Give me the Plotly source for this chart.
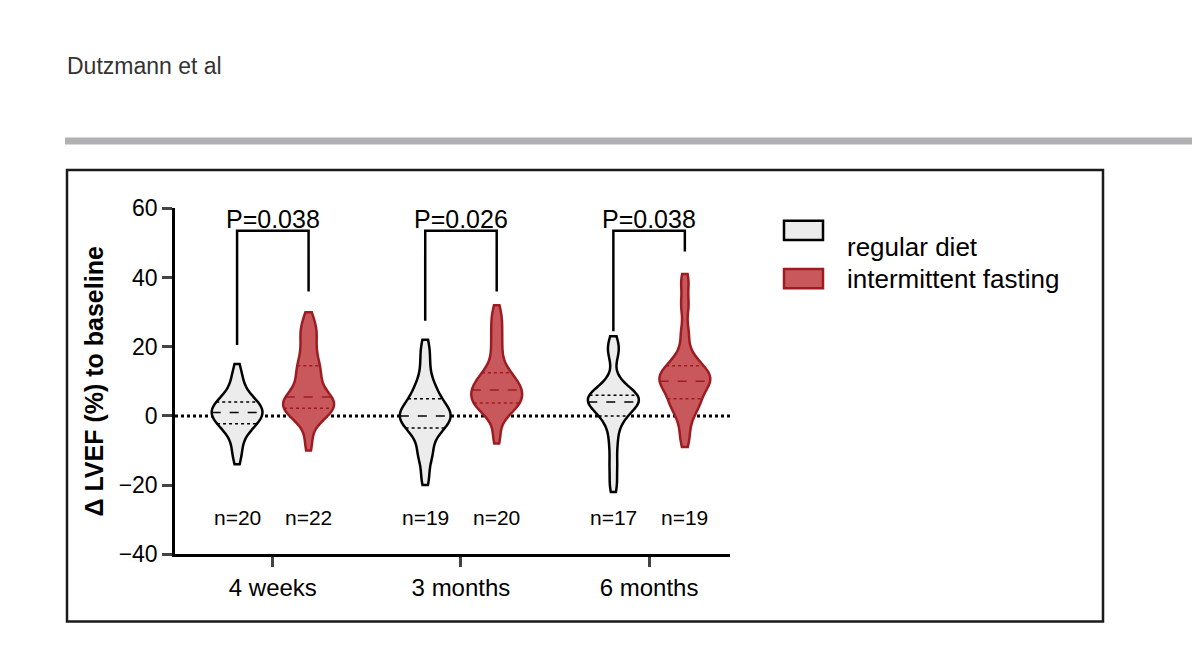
import numpy as np
import plotly.graph_objects as go

W, H = 1200, 665
DX, DY = 8, 8  # compensate page offset

groups = ["4 weeks", "3 months", "6 months"]
p_values = ["P=0.038", "P=0.026", "P=0.038"]
n_regular = ["n=20", "n=19", "n=17"]
n_fasting = ["n=22", "n=20", "n=19"]

# estimated Δ LVEF values (%) per patient
regular = [
    [-12, -9, -5, -3, -3, -2, -1, 0, 0, 1, 1, 2, 2, 3, 4, 4, 5, 7, 10, 13],
    [-18, -12, -10, -6, -4, -3, -2, -1, 0, 0, 1, 2, 3, 4, 6, 8, 10, 15, 20],
    [-20, -14, -8, -3, 0, 1, 3, 4, 4, 5, 5, 6, 6, 7, 10, 18, 21],
]
fasting = [
    [-8, -2, 0, 1, 1, 2, 3, 4, 4, 5, 5, 6, 8, 10, 12, 13, 15, 17, 20, 23, 25, 28],
    [-6, 0, 2, 3, 3, 4, 5, 6, 7, 7, 8, 9, 10, 11, 12, 14, 18, 22, 26, 30],
    [-7, -2, 2, 3, 4, 6, 8, 9, 10, 10, 11, 12, 13, 14, 15, 18, 24, 32, 39],
]
# bracket: (left leg bottom, right leg bottom, top)
brackets = [(20.5, 36, 53.5), (27.5, 36, 53.5), (24.5, 47.5, 53.5)]

off = 0.19
vw = 0.27
BW = 3.0
reg_line, reg_fill = "black", "#ececec"
fas_line, fas_fill = "#9c1c22", "#c9585d"


def px(x):
    return (x - DX) / W


def py(y):
    return 1 - (y - DY) / H


def kde_halfwidth(vals, y):
    v = np.asarray(vals, float)
    grid = np.linspace(v.min() - 2, v.max() + 2, 300)
    dens = lambda t: np.exp(-0.5 * ((t[:, None] - v[None, :]) / BW) ** 2).sum(1)
    return dens(np.atleast_1d(y)) / dens(grid).max() * vw / 2


fig = go.Figure()
shapes = []
for i in range(3):
    for vals, dx, lc, fc in [(regular[i], -off, reg_line, reg_fill),
                             (fasting[i], off, fas_line, fas_fill)]:
        xc = i + 1 + dx
        fig.add_trace(go.Violin(
            x=[xc] * len(vals), y=vals, width=vw, scalemode="width", bandwidth=BW,
            points=False, spanmode="manual", span=[min(vals) - 2, max(vals) + 2],
            line=dict(color=lc, width=2.5),
            fillcolor=fc, opacity=1, showlegend=False, hoverinfo="skip",
        ))
        for q, dash in [(25, "dot"), (50, "dash"), (75, "dot")]:
            yq = np.percentile(vals, q)
            hw = kde_halfwidth(vals, yq)[0]
            shapes.append(dict(type="line", xref="x", yref="y", x0=xc - hw, x1=xc + hw,
                               y0=yq, y1=yq, line=dict(color=lc, width=1.5, dash=dash)))

# zero line
shapes.append(dict(type="line", xref="x", yref="y", x0=0.48, x1=3.43, y0=0, y1=0,
                   line=dict(color="black", width=3, dash="dot"), layer="below"))
annotations = []
for i in range(3):
    l, r, t = brackets[i]
    x0, x1 = i + 1 - off, i + 1 + off
    shapes.append(dict(type="path", xref="x", yref="y",
                       path=f"M {x0},{l} L {x0},{t} L {x1},{t} L {x1},{r}",
                       line=dict(color="black", width=2.5)))
    annotations.append(dict(x=i + 1, y=py(197), xref="x", yref="paper", text=p_values[i],
                            showarrow=False, font=dict(size=25, color="black")))
    annotations.append(dict(x=x0, y=-29.5, xref="x", yref="y", text=n_regular[i],
                            showarrow=False, font=dict(size=21, color="black")))
    annotations.append(dict(x=x1, y=-29.5, xref="x", yref="y", text=n_fasting[i],
                            showarrow=False, font=dict(size=21, color="black")))

# header, separator and frame
annotations.append(dict(x=px(65), y=py(55), xref="paper", yref="paper", text="Dutzmann et al",
                        showarrow=False, xanchor="left", yanchor="middle",
                        font=dict(size=23, color="#333333")))
shapes.append(dict(type="line", xref="paper", yref="paper", x0=px(65), x1=1, y0=py(133),
                   y1=py(133), line=dict(color="#b1b1b4", width=7)))
shapes.append(dict(type="rect", xref="paper", yref="paper", x0=px(67), x1=px(1103),
                   y0=py(633), y1=py(163), line=dict(color="#1a1a1a", width=2.5)))

# legend
for k, (lab, lc, fc) in enumerate([("regular diet", reg_line, reg_fill),
                                   ("intermittent fasting", fas_line, fas_fill)]):
    yc = 226 + 50 * k
    shapes.append(dict(type="rect", xref="paper", yref="paper", x0=px(784), x1=px(823),
                       y0=py(yc + 10), y1=py(yc - 10), fillcolor=fc,
                       line=dict(color=lc, width=2.5)))
    annotations.append(dict(x=px(845), y=py(yc), xref="paper", yref="paper", text=lab,
                            showarrow=False, xanchor="left", font=dict(size=26, color="black")))

fig.update_layout(
    width=W, height=H, margin=dict(l=0, r=0, t=0, b=0),
    plot_bgcolor="white", paper_bgcolor="white",
    font=dict(family="Liberation Sans, Arial", color="black"),
    shapes=shapes, annotations=annotations, violinmode="overlay",
    xaxis=dict(domain=[px(175), px(730)], range=[0.48, 3.43], tickvals=[1, 2, 3],
               ticktext=groups, showline=True, linecolor="black", linewidth=2.5,
               ticks="outside", ticklen=10, tickwidth=2.5, showgrid=False, zeroline=False,
               tickfont=dict(size=24)),
    yaxis=dict(domain=[py(563), py(203)], range=[-40, 60], dtick=20,
               showline=True, linecolor="black", linewidth=2.5, ticks="outside",
               ticklen=10, tickwidth=2.5, showgrid=False, zeroline=False,
               tickfont=dict(size=23),
               title=dict(text="<b>Δ LVEF (%) to baseline</b>", font=dict(size=25), standoff=8)),
)

fig.write_html("out.html")
